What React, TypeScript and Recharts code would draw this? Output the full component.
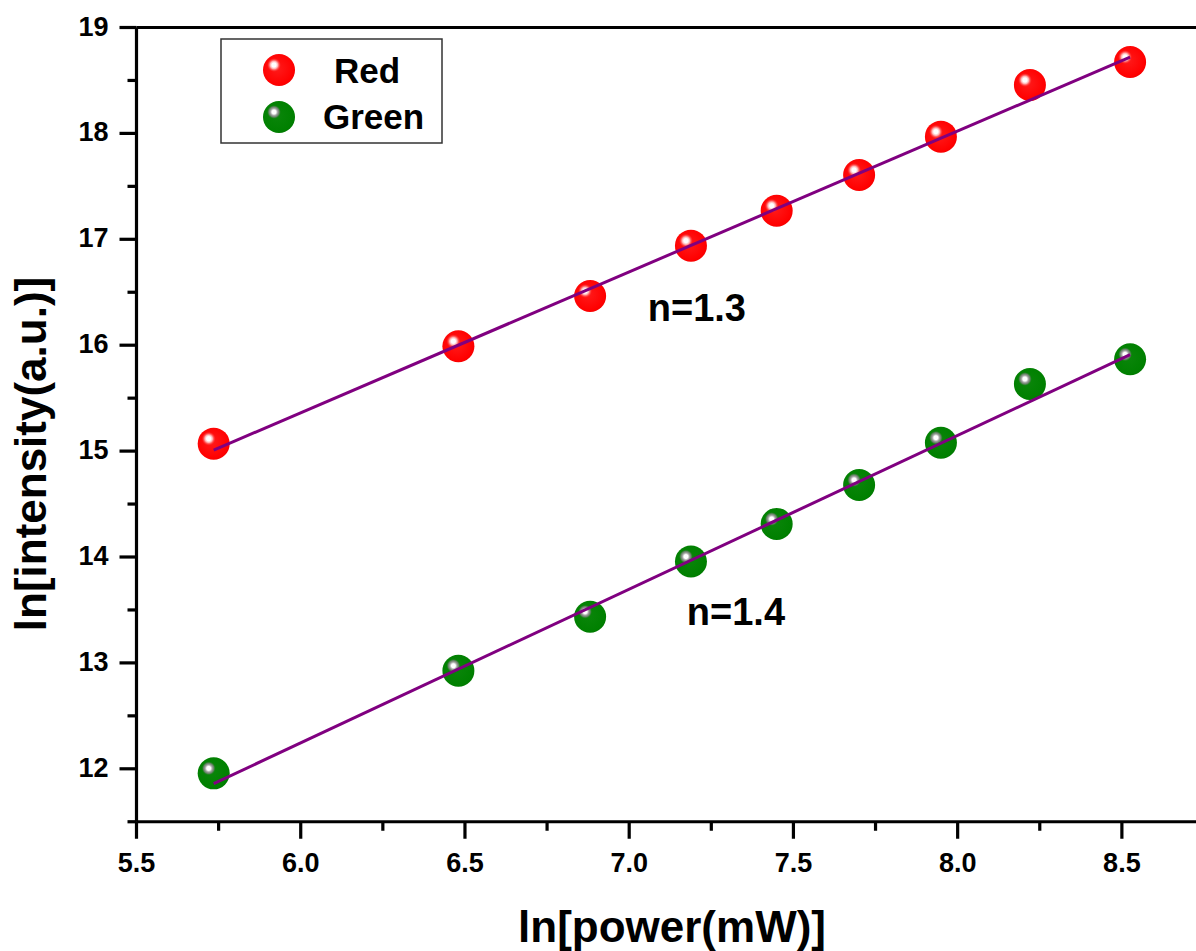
import React from 'react';
import { ScatterChart, Scatter, XAxis, YAxis, ReferenceLine } from 'recharts';

// ---- data ----
const powerLn = [5.735, 6.48, 6.881, 7.188, 7.449, 7.7, 7.949, 8.22, 8.525];
const redLnI = [15.07, 15.99, 16.465, 16.94, 17.27, 17.607, 17.969, 18.457, 18.674];
const greenLnI = [11.957, 12.926, 13.436, 13.957, 14.312, 14.68, 15.079, 15.634, 15.867];
const fitX = [5.735, 8.525];
const redFitY = [15.01, 18.72];
const greenFitY = [11.86, 15.91];
const annX = [7.206, 7.325];
const annY = [16.224, 13.358];
const annText = ['n=1.3', 'n=1.4'];
const xTicks = [5.5, 5.75, 6, 6.25, 6.5, 6.75, 7, 7.25, 7.5, 7.75, 8, 8.25, 8.5, 8.75];
const yTicks = [11.5, 12, 12.5, 13, 13.5, 14, 14.5, 15, 15.5, 16, 16.5, 17, 17.5, 18, 18.5, 19];
const seriesNames = ['Red', 'Green'];

const redData = powerLn.map((x, i) => ({ x, y: redLnI[i] }));
const greenData = powerLn.map((x, i) => ({ x, y: greenLnI[i] }));
const redFit = fitX.map((x, i) => ({ x, y: redFitY[i] }));
const greenFit = fitX.map((x, i) => ({ x, y: greenFitY[i] }));

const FONT = "'Liberation Sans', Arial, Helvetica, sans-serif";

const Ball = ({ cx, cy, kind }: { cx: number; cy: number; kind: 'red' | 'green' }) => {
  if (cx == null || cy == null) return <g />;
  return (
    <g>
      <circle cx={cx} cy={cy} r={16} fill={`url(#body-${kind})`} />
      <circle cx={cx - 5} cy={cy - 5} r={7} fill={`url(#hl-${kind})`} />
    </g>
  );
};

const XTick = (props: any) => {
  const { x, y, payload } = props;
  const v = payload.value as number;
  const major = Math.abs(v * 2 - Math.round(v * 2)) < 1e-6;
  return (
    <g>
      <rect x={x - 1.6} y={y} width={3.2} height={major ? 17 : 9} fill="#000" stroke="none" />
      {major && (
        <text x={x} y={y + 50} textAnchor="middle" fontFamily={FONT} fontWeight="bold" fontSize={27} fill="#000" stroke="none">
          {v.toFixed(1)}
        </text>
      )}
    </g>
  );
};

const YTick = (props: any) => {
  const { x, y, payload } = props;
  const v = payload.value as number;
  const major = Math.abs(v - Math.round(v)) < 1e-6;
  const len = major ? 17 : 9;
  return (
    <g>
      <rect x={x - len} y={y - 1.6} width={len} height={3.2} fill="#000" stroke="none" />
      {major && (
        <text x={x - 28} y={y + 8} textAnchor="end" fontFamily={FONT} fontWeight="bold" fontSize={27} fill="#000" stroke="none">
          {String(v)}
        </text>
      )}
    </g>
  );
};

const makeAnn = (text: string) => (p: any) =>
  p.cx == null ? (
    <g />
  ) : (
    <text x={p.cx} y={p.cy} textAnchor="middle" fontFamily={FONT} fontWeight="bold" fontSize={38} fill="#000">
      {text}
    </text>
  );

export default function App() {
  return (
    <div style={{ position: 'relative', width: 1196, height: 951, overflow: 'hidden', background: '#fff' }}>
      <style>{`body{margin:0;}`}</style>
      <ScatterChart width={1204} height={951} margin={{ top: 27.5, right: 0, left: 0, bottom: 0 }}>
        <XAxis
          type="number"
          dataKey="x"
          domain={[5.5, 8.75]}
          ticks={xTicks}
          interval={0}
          tickSize={0}
          tickMargin={0}
          tickLine={false}
          tick={<XTick />}
          axisLine={{ stroke: '#000', strokeWidth: 3.2 }}
          height={129.25}
          allowDataOverflow
        />
        <YAxis
          type="number"
          dataKey="y"
          domain={[11.5, 19]}
          ticks={yTicks}
          interval={0}
          tickSize={0}
          tickMargin={0}
          tickLine={false}
          tick={<YTick />}
          axisLine={{ stroke: '#000', strokeWidth: 3.2 }}
          width={136.5}
          allowDataOverflow
        />
        <ReferenceLine y={19} stroke="#000" strokeWidth={3.2} />
        <Scatter
          name={seriesNames[0]}
          data={redData}
          isAnimationActive={false}
          shape={(p: any) => <Ball cx={p.cx} cy={p.cy} kind="red" />}
        />
        <Scatter
          name={seriesNames[1]}
          data={greenData}
          isAnimationActive={false}
          shape={(p: any) => <Ball cx={p.cx} cy={p.cy} kind="green" />}
        />
        <Scatter
          data={redFit}
          isAnimationActive={false}
          line={{ stroke: '#800080', strokeWidth: 3 }}
          shape={() => <g />}
          legendType="none"
        />
        <Scatter
          data={greenFit}
          isAnimationActive={false}
          line={{ stroke: '#800080', strokeWidth: 3 }}
          shape={() => <g />}
          legendType="none"
        />
        {annText.map((t, i) => (
          <Scatter
            key={t}
            data={[{ x: annX[i], y: annY[i] }]}
            isAnimationActive={false}
            shape={makeAnn(t)}
            legendType="none"
          />
        ))}
      </ScatterChart>
      <svg
        width={1196}
        height={951}
        style={{ position: 'absolute', left: 0, top: 0, pointerEvents: 'none' }}
      >
        <defs>
          <radialGradient id="body-red" cx="45%" cy="45%" r="60%">
            <stop offset="0%" stopColor="#ff1a1a" />
            <stop offset="85%" stopColor="#ff0000" />
            <stop offset="100%" stopColor="#ee0000" />
          </radialGradient>
          <radialGradient id="hl-red" cx="50%" cy="50%" r="50%">
            <stop offset="0%" stopColor="#ffffff" stopOpacity={1} />
            <stop offset="30%" stopColor="#ffffff" stopOpacity={1} />
            <stop offset="55%" stopColor="#ffb8b8" stopOpacity={0.95} />
            <stop offset="100%" stopColor="#ff3030" stopOpacity={0} />
          </radialGradient>
          <radialGradient id="body-green" cx="45%" cy="45%" r="60%">
            <stop offset="0%" stopColor="#0a850a" />
            <stop offset="85%" stopColor="#008000" />
            <stop offset="100%" stopColor="#007400" />
          </radialGradient>
          <radialGradient id="hl-green" cx="50%" cy="50%" r="50%">
            <stop offset="0%" stopColor="#ffffff" stopOpacity={1} />
            <stop offset="28%" stopColor="#ffffff" stopOpacity={1} />
            <stop offset="50%" stopColor="#a8a8a8" stopOpacity={1} />
            <stop offset="75%" stopColor="#808080" stopOpacity={0.75} />
            <stop offset="100%" stopColor="#208020" stopOpacity={0} />
          </radialGradient>
        </defs>
        <rect x={221} y={39} width={221} height={104} fill="#fff" stroke="#333" strokeWidth={1.5} />
        <Ball cx={279} cy={70} kind="red" />
        <Ball cx={279} cy={117} kind="green" />
        <text x={334} y={83} fontFamily={FONT} fontWeight="bold" fontSize={35} fill="#000">
          {seriesNames[0]}
        </text>
        <text x={323} y={129} fontFamily={FONT} fontWeight="bold" fontSize={35} fill="#000">
          {seriesNames[1]}
        </text>
        <text x={672} y={942} textAnchor="middle" fontFamily={FONT} fontWeight="bold" fontSize={44} fill="#000">
          ln[power(mW)]
        </text>
        <text
          x={0}
          y={0}
          transform="translate(46,454) rotate(-90)"
          textAnchor="middle"
          fontFamily={FONT}
          fontWeight="bold"
          fontSize={44}
          fill="#000"
        >
          ln[intensity(a.u.)]
        </text>
      </svg>
    </div>
  );
}
